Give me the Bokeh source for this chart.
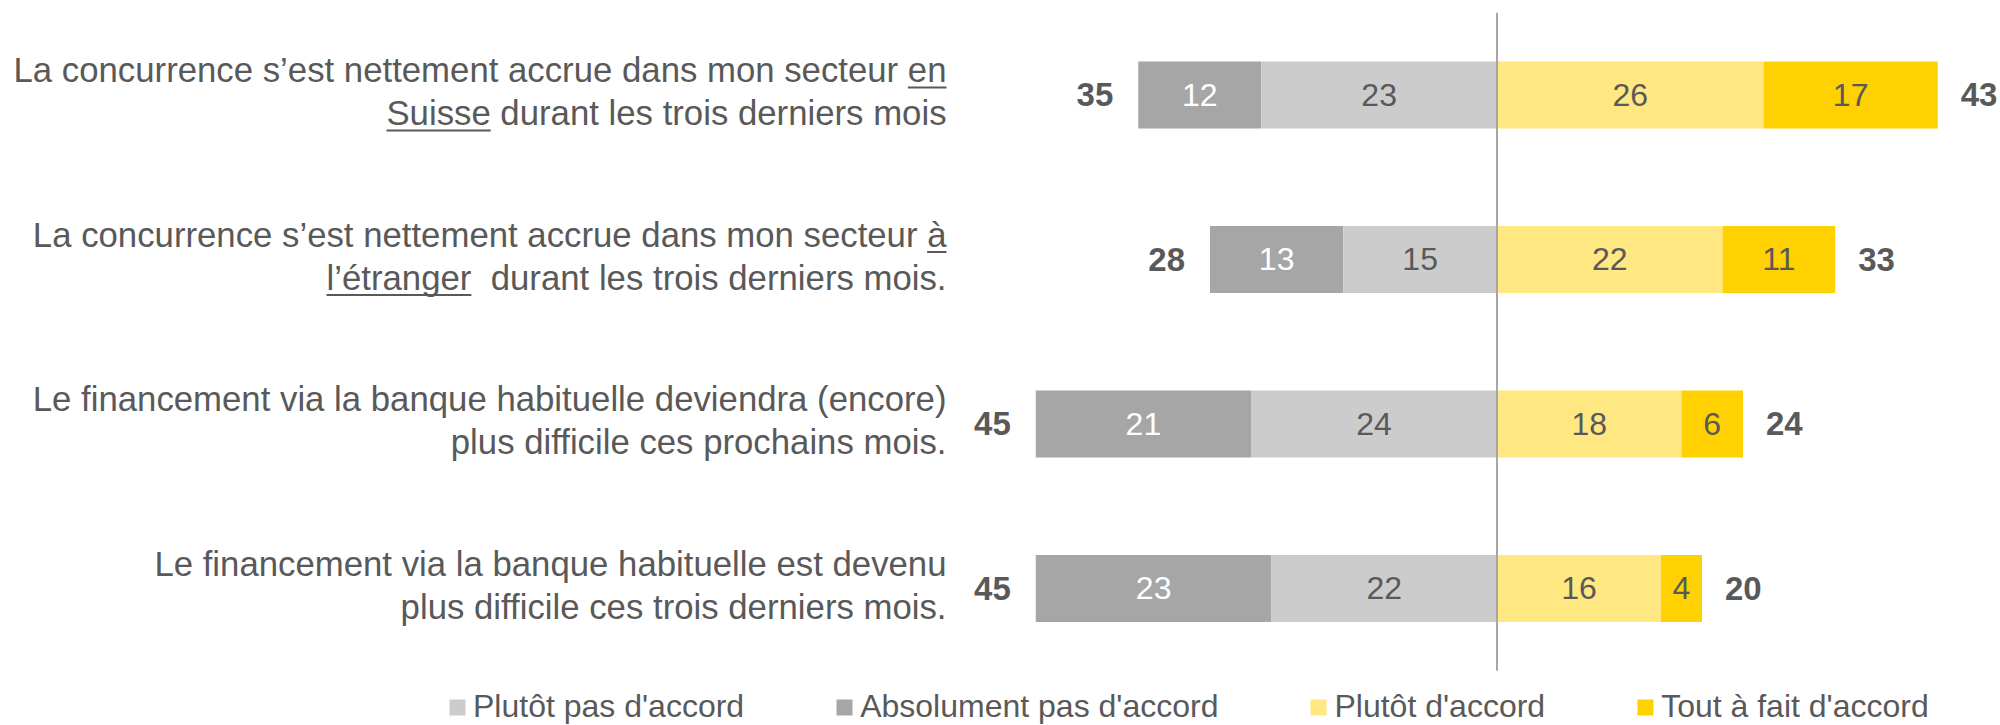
from bokeh.plotting import figure
from bokeh.models import ColumnDataSource, Range1d, Legend, LegendItem
from bokeh.core.properties import value
from bokeh.embed import file_html
from bokeh.resources import INLINE

# ---------------- data ----------------
label_runs = [
    [[("La concurrence s\u2019est nettement accrue dans mon secteur ", 0), ("en", 1)],
     [("Suisse", 1), (" durant les trois derniers mois", 0)]],
    [[("La concurrence s\u2019est nettement accrue dans mon secteur ", 0), ("\u00e0", 1)],
     [("l\u2019\u00e9tranger", 1), ("\u00a0 durant les trois derniers mois.", 0)]],
    [[("Le financement via la banque habituelle deviendra (encore)", 0)],
     [("plus difficile ces prochains mois.", 0)]],
    [[("Le financement via la banque habituelle est devenu", 0)],
     [("plus difficile ces trois derniers mois.", 0)]],
]
absolument_pas = [12, 13, 21, 23]
plutot_pas = [23, 15, 24, 22]
plutot_accord = [26, 22, 18, 16]
tout_a_fait = [17, 11, 6, 4]
series_names = ["Plut\u00f4t pas d'accord", "Absolument pas d'accord",
                "Plut\u00f4t d'accord", "Tout \u00e0 fait d'accord"]

# ---------------- style ----------------
C_ABS = "#A6A6A6"
C_PP = "#CCCCCC"
C_PD = "#FFE781"
C_TF = "#FFD100"
GRAY = "#595959"
FONT = "Liberation Sans"

W, H = 2000, 725
KX = 10.25          # px per percentage point
ZERO_PX = 1496.5    # x pixel of the zero line
KY = 164.5          # px per category
TOP_PX = 94.4       # y pixel of the first bar centre
BAR_H = 67 / KY
LABEL_FS = 34.75
LABEL_RIGHT_PX = -550.5
LABEL_RIGHT = LABEL_RIGHT_PX / KX

def dx(px):
    return px / KX

def dy(px):
    return px / KY

# Arial / Liberation Sans advance widths (1/1000 em)
AW = dict(zip("abcdefghijklmnopqrstuvwxyz",
              [556, 556, 500, 556, 556, 278, 556, 556, 222, 222, 500, 222, 833,
               556, 556, 556, 556, 333, 500, 278, 556, 500, 722, 500, 500, 500]))
AW.update({" ": 278, "\u00a0": 278, ".": 278, "(": 333, ")": 333, "\u2019": 222,
           "'": 191, "L": 556, "S": 667, "P": 667, "A": 667, "T": 611,
           "\u00e0": 556, "\u00e9": 556, "\u00f4": 556})

def text_w(s, fs):
    return sum(AW.get(ch, 556) for ch in s) / 1000.0 * fs

n = len(absolument_pas)
idx = list(range(n))

p = figure(width=W, height=H, output_backend="svg", toolbar_location=None,
           x_range=Range1d(-ZERO_PX / KX, (W - ZERO_PX) / KX),
           y_range=Range1d((H - TOP_PX) / KY, -TOP_PX / KY),
           x_axis_location=None, y_axis_location=None, min_border=0)
p.grid.visible = False
p.outline_line_color = None
p.background_fill_color = "white"

src = ColumnDataSource(dict(
    y=idx,
    abs_l=[-(a + b) for a, b in zip(absolument_pas, plutot_pas)],
    abs_r=[-b for b in plutot_pas],
    pp_l=[-b for b in plutot_pas],
    pp_r=[0] * n,
    pd_l=[0] * n,
    pd_r=plutot_accord,
    tf_l=plutot_accord,
    tf_r=[c + d for c, d in zip(plutot_accord, tout_a_fait)],
))

r_abs = p.hbar(y="y", left="abs_l", right="abs_r", height=BAR_H, source=src,
               fill_color=C_ABS, line_color=None)
r_pp = p.hbar(y="y", left="pp_l", right="pp_r", height=BAR_H, source=src,
              fill_color=C_PP, line_color=None)
r_pd = p.hbar(y="y", left="pd_l", right="pd_r", height=BAR_H, source=src,
              fill_color=C_PD, line_color=None)
r_tf = p.hbar(y="y", left="tf_l", right="tf_r", height=BAR_H, source=src,
              fill_color=C_TF, line_color=None)

# values inside the bars
vx, vy, vt, vc = [], [], [], []
for i in idx:
    a, b, c, d = absolument_pas[i], plutot_pas[i], plutot_accord[i], tout_a_fait[i]
    for xc, val, col in [(-(b + a / 2), a, "white"), (-b / 2, b, GRAY),
                         (c / 2, c, GRAY), (c + d / 2, d, GRAY)]:
        vx.append(xc); vy.append(i); vt.append(str(val)); vc.append(col)
p.text(x=vx, y=vy, text=vt, text_color=vc, text_font=value(FONT),
       text_font_size="32px", text_align="center", text_baseline="middle")

# totals
neg_tot = [a + b for a, b in zip(absolument_pas, plutot_pas)]
pos_tot = [c + d for c, d in zip(plutot_accord, tout_a_fait)]
p.text(x=[-t for t in neg_tot], y=idx, text=[str(t) for t in neg_tot],
       x_offset=-25, text_color=GRAY, text_font=value(FONT), text_font_style="bold",
       text_font_size="33px", text_align="right", text_baseline="middle")
p.text(x=pos_tot, y=idx, text=[str(t) for t in pos_tot],
       x_offset=23, text_color=GRAY, text_font=value(FONT), text_font_style="bold",
       text_font_size="33px", text_align="left", text_baseline="middle")

# category labels (two lines, right aligned) with underlines
lx, ly, lt = [], [], []
ux0, ux1, uy = [], [], []
line_offsets = [-24.5, 18.5]
for i, lines in enumerate(label_runs):
    for li, runs in enumerate(lines):
        full = "".join(t for t, _ in runs)
        mid_y = i + dy(line_offsets[li])
        lx.append(LABEL_RIGHT); ly.append(mid_y); lt.append(full)
        start = LABEL_RIGHT_PX - text_w(full, LABEL_FS)
        cum = 0.0
        for t, u in runs:
            w = text_w(t, LABEL_FS)
            if u:
                ux0.append(dx(start + cum)); ux1.append(dx(start + cum + w))
                uy.append(mid_y + dy(17))
            cum += w
p.text(x=lx, y=ly, text=lt, text_color=GRAY, text_font=value(FONT),
       text_font_size=f"{LABEL_FS}px", text_align="right", text_baseline="middle")
p.segment(x0=ux0, x1=ux1, y0=uy, y1=uy, line_color=GRAY, line_width=2)

# zero line
p.segment(x0=[0], x1=[0], y0=[-0.5], y1=[n - 0.5], line_color="#A6A6A6", line_width=2)

legend = Legend(items=[LegendItem(label=series_names[0], renderers=[r_pp]),
                       LegendItem(label=series_names[1], renderers=[r_abs]),
                       LegendItem(label=series_names[2], renderers=[r_pd]),
                       LegendItem(label=series_names[3], renderers=[r_tf])],
                orientation="horizontal", location=(447, 0), spacing=90,
                glyph_width=20, glyph_height=20, label_standoff=6,
                label_text_font=FONT, label_text_font_size="32px",
                label_text_color=GRAY, label_text_baseline="middle",
                padding=0, margin=0, border_line_alpha=0, background_fill_alpha=0)
p.add_layout(legend)

open("out.html", "w").write(file_html(p, INLINE))
